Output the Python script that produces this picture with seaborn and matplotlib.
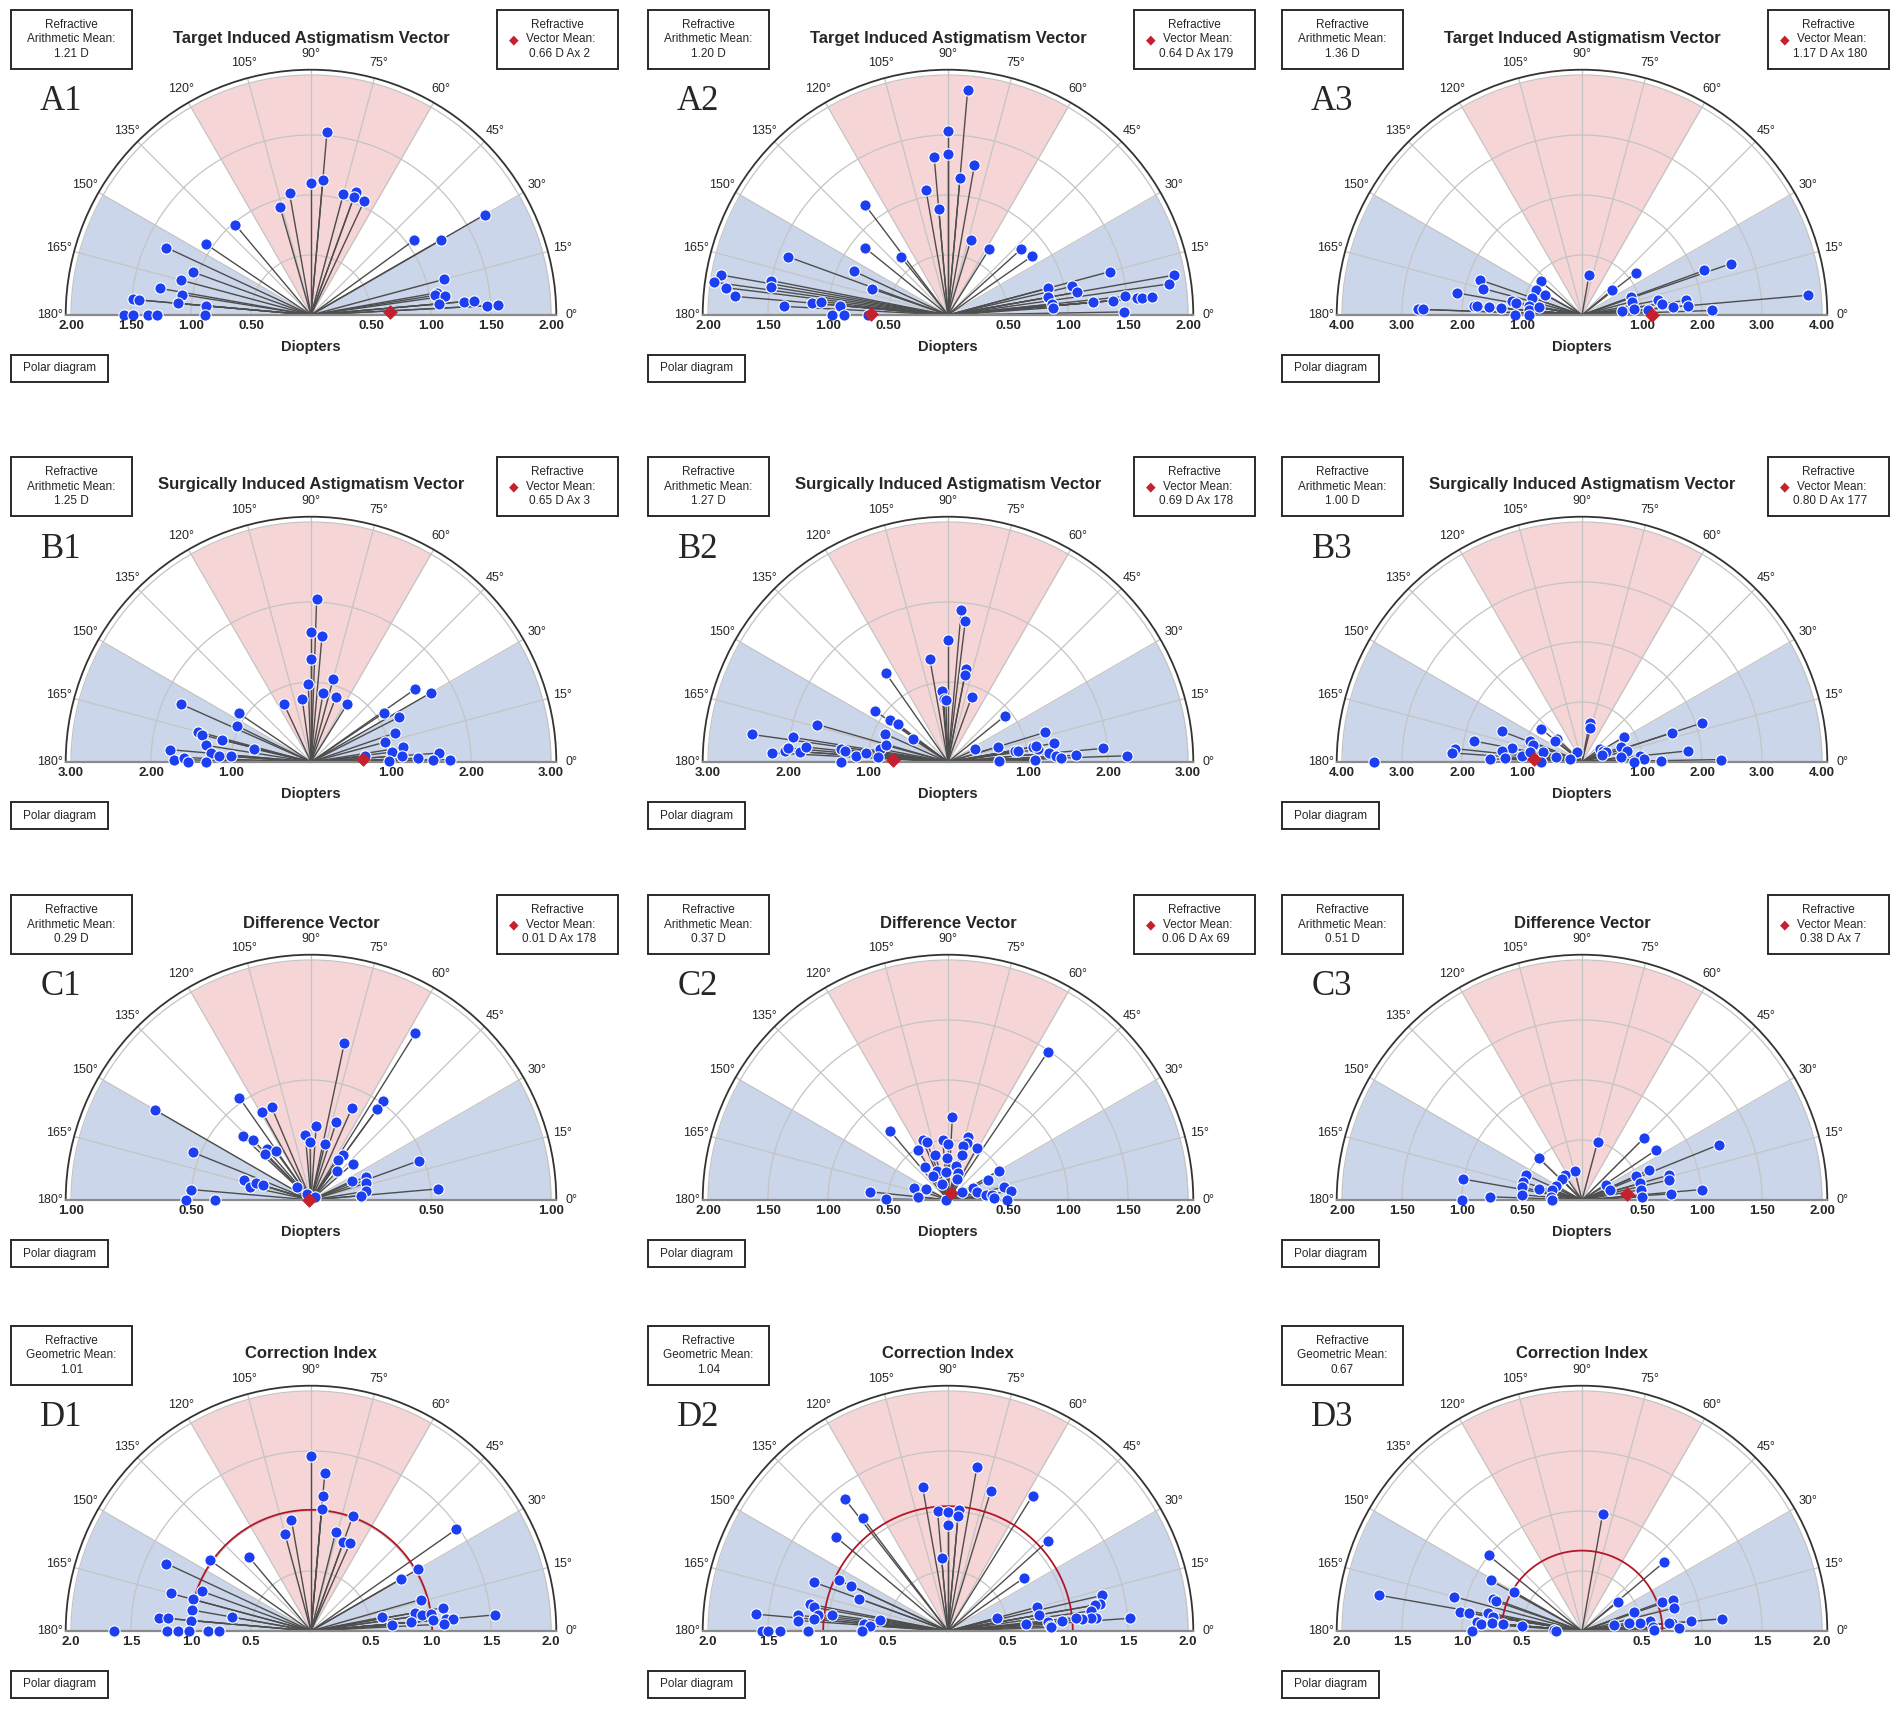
import numpy as np
import matplotlib
matplotlib.use('Agg')
import matplotlib.pyplot as plt
import seaborn as sns
from matplotlib.patches import Rectangle

# ---- data (axis in degrees, magnitude in D) ----
A1_AXIS = [85, 90, 85, 100, 106, 75, 70, 70, 65, 130, 146, 155, 160, 165, 170, 171, 175, 175, 175, 175,
           180, 180, 180, 180, 180, 30, 36, 30, 15, 10, 9, 8, 5, 5, 5, 3, 3]
A1_DIOP = [1.53, 1.10, 1.13, 1.03, 0.94, 1.04, 1.09, 1.05, 1.05, 0.98, 1.06, 1.33, 1.05, 1.12, 1.28, 1.09,
           1.49, 1.44, 1.11, 0.88, 1.56, 1.48, 1.36, 1.28, 0.88, 1.67, 1.06, 1.25, 1.15, 1.07, 1.05, 1.13,
           1.07, 1.28, 1.36, 1.47, 1.56]

A2_AXIS = [85, 90, 90, 95, 80, 85, 100, 95, 73, 58, 42, 35, 127, 141, 129, 160, 155, 161, 170, 172,
           173, 175, 169, 171, 177, 175, 174, 175, 180, 180, 180, 15, 10, 8, 15, 13, 10, 10, 6, 4,
           5, 5, 6, 5, 5, 5, 1]
A2_DIOP = [1.88, 1.53, 1.34, 1.32, 1.27, 1.15, 1.06, 0.89, 0.65, 0.65, 0.82, 0.85, 1.15, 0.89, 0.62,
           1.42, 0.86, 0.67, 1.92, 1.97, 1.86, 1.78, 1.50, 1.49, 1.37, 1.14, 1.06, 0.90, 0.97, 0.87,
           0.67, 1.40, 1.91, 1.86, 0.86, 1.06, 1.09, 0.85, 0.87, 0.88, 1.21, 1.38, 1.48, 1.58, 1.62,
           1.71, 1.47]

A3_AXIS = [80, 38, 40, 19, 20, 5, 20, 15, 7, 5, 4, 11, 8, 5, 8, 5, 2, 141, 151, 151, 161, 161, 165,
           170, 169, 170, 175, 175, 175, 175, 170, 175, 170, 178, 178, 180, 180]
A3_DIOP = [0.67, 1.14, 0.66, 2.62, 2.17, 3.78, 0.87, 0.86, 0.87, 0.67, 1.10, 1.29, 1.35, 1.53, 1.75,
           1.77, 2.17, 0.89, 0.87, 0.70, 0.89, 1.80, 1.70, 2.11, 1.19, 1.12, 1.81, 1.76, 1.55, 1.36,
           0.90, 0.88, 0.72, 2.73, 2.65, 1.11, 0.88]

B1_AXIS = [88, 90, 85, 90, 92, 75, 80, 98, 115, 69, 58, 35, 30, 34, 27, 19, 15, 9, 7, 4, 6, 2, 4, 1,
           1, 1, 156, 146, 154, 165, 166, 166, 167, 171, 175, 176, 176, 175, 179, 178, 180, 180]
B1_DIOP = [2.04, 1.63, 1.58, 1.29, 0.97, 1.08, 0.88, 0.79, 0.80, 0.87, 0.85, 1.59, 1.73, 1.10, 1.24,
           1.11, 0.96, 1.17, 1.02, 1.14, 0.68, 1.34, 1.61, 1.52, 1.74, 0.98, 1.78, 1.09, 1.03, 1.46,
           1.40, 1.15, 0.73, 1.33, 1.26, 1.15, 1.00, 1.77, 1.71, 1.59, 1.54, 1.31]

B2_AXIS = [85, 83, 90, 100, 79, 79, 95, 94, 92, 70, 125, 145, 144, 143, 156, 147, 164, 172, 171, 177,
           176, 175, 176, 174, 173, 174, 176, 174, 169, 165, 176, 180, 39, 17, 25, 17, 9, 9, 10, 8,
           10, 10, 5, 3, 2, 3, 5, 2, 1, 1]
B2_DIOP = [1.91, 1.77, 1.53, 1.31, 1.18, 1.11, 0.89, 0.79, 0.78, 0.86, 1.36, 1.11, 0.89, 0.78, 0.86,
           0.52, 1.70, 2.48, 1.96, 2.20, 2.04, 2.01, 1.85, 1.78, 1.35, 1.30, 1.15, 1.03, 0.87, 0.80,
           0.88, 1.34, 0.92, 1.27, 0.37, 0.65, 0.85, 0.89, 1.08, 1.14, 1.12, 1.34, 1.27, 1.35, 1.41,
           1.60, 1.94, 2.24, 0.64, 1.09]

B3_AXIS = [79, 76, 18, 18, 31, 21, 14, 37, 27, 22, 19, 7, 6, 6, 3, 1, 1, 0, 141, 137, 142, 159, 169,
           158, 161, 169, 174, 176, 172, 177, 178, 174, 169, 166, 168, 118, 164, 180, 180]
B3_DIOP = [0.66, 0.58, 2.11, 1.58, 0.81, 0.70, 0.78, 0.37, 0.40, 0.44, 0.35, 0.66, 1.77, 0.98, 1.03,
           1.32, 2.31, 0.86, 0.87, 0.56, 0.58, 1.42, 1.84, 0.93, 0.87, 1.19, 2.12, 2.18, 1.34, 1.28,
           1.53, 1.01, 0.88, 0.67, 0.44, 0.19, 0.20, 0.68, 3.46]

C1_AXIS = [78, 58, 66, 54, 54, 72, 86, 95, 91, 76, 54, 56, 41, 48, 20, 23, 17, 25, 5, 9, 5, 125, 119,
           113, 137, 134, 131, 126, 135, 150, 158, 163, 168, 163, 163, 175, 180, 180, 139, 120, 40]
C1_DIOP = [0.67, 0.82, 0.42, 0.51, 0.47, 0.34, 0.31, 0.27, 0.24, 0.24, 0.23, 0.20, 0.23, 0.16, 0.48,
           0.25, 0.24, 0.19, 0.53, 0.23, 0.21, 0.52, 0.42, 0.42, 0.39, 0.35, 0.28, 0.25, 0.27, 0.75,
           0.53, 0.29, 0.26, 0.24, 0.21, 0.50, 0.52, 0.40, 0.08, 0.03, 0.02]

C2_AXIS = [56, 87, 130, 113, 110, 95, 90, 72, 72, 75, 61, 121, 106, 92, 72, 125, 111, 122, 94, 77,
           70, 67, 111, 30, 27, 13, 8, 26, 16, 7, 6, 3, 30, 0, 174, 179, 161, 153, 174, 180]
C2_DIOP = [1.49, 0.69, 0.75, 0.54, 0.51, 0.50, 0.47, 0.55, 0.50, 0.47, 0.50, 0.49, 0.39, 0.35, 0.39,
           0.34, 0.26, 0.24, 0.23, 0.29, 0.24, 0.19, 0.14, 0.49, 0.37, 0.48, 0.53, 0.23, 0.25, 0.32,
           0.37, 0.38, 0.13, 0.49, 0.65, 0.52, 0.30, 0.21, 0.25, 0.02]

C3_AXIS = [75, 45, 34, 22, 24, 24, 16, 13, 32, 20, 16, 10, 3, 4, 5, 104, 125, 134, 136, 152, 161,
           174, 180, 156, 163, 168, 175, 166, 170, 178, 180]
C3_DIOP = [0.50, 0.73, 0.74, 1.23, 0.61, 0.49, 0.75, 0.74, 0.24, 0.25, 0.50, 0.50, 0.50, 0.74, 1.00,
           0.25, 0.25, 0.24, 0.50, 0.25, 0.26, 0.26, 0.25, 0.51, 0.51, 0.51, 0.50, 0.37, 1.01, 0.77,
           1.00]

D1_AXIS = [90, 85, 85, 85, 70, 100, 105, 76, 70, 66, 35, 30, 30, 16, 10, 10, 8, 8, 5, 5, 5, 3, 5, 11,
           5, 4, 130, 145, 155, 165, 160, 165, 170, 170, 175, 175, 175, 180, 180, 180, 180, 180, 180]
D1_INDEX = [1.46, 1.32, 1.13, 1.02, 1.02, 0.94, 0.84, 0.85, 0.79, 0.80, 1.48, 1.03, 0.87, 0.95, 1.12,
            0.88, 0.93, 1.01, 1.02, 1.13, 1.19, 1.11, 1.54, 0.60, 0.84, 0.68, 0.81, 1.03, 1.33, 1.21,
            0.97, 1.02, 1.01, 0.67, 1.27, 1.20, 1.00, 1.64, 1.20, 1.11, 1.02, 0.86, 0.77]

D2_AXIS = [80, 100, 73, 58, 128, 127, 95, 90, 85, 85, 90, 95, 140, 42, 35, 160, 155, 155, 160, 169,
           170, 173, 175, 172, 174, 176, 175, 171, 175, 176, 180, 180, 180, 180, 180, 13, 10, 10, 8,
           5, 5, 5, 6, 4, 15, 10, 5, 5, 3, 5, 15, 2]
D2_INDEX = [1.39, 1.22, 1.22, 1.33, 1.40, 1.18, 1.00, 0.99, 1.01, 0.96, 0.88, 0.61, 1.22, 1.12, 0.77,
            1.19, 1.00, 0.89, 0.79, 1.17, 1.13, 1.09, 1.12, 0.98, 1.26, 1.25, 1.61, 0.57, 0.70, 0.65,
            1.55, 1.50, 1.40, 1.17, 0.72, 1.32, 1.29, 1.24, 1.20, 1.24, 1.20, 1.12, 1.07, 1.52, 0.77,
            0.77, 0.95, 0.84, 0.85, 0.65, 0.42, 0.86]

D3_AXIS = [80, 141, 40, 151, 150, 39, 170, 165, 160, 161, 171, 171, 169, 171, 175, 176, 175, 175, 175,
           180, 177, 180, 20, 19, 14, 20, 5, 5, 5, 5, 8, 8, 10, 10, 3, 2, 1]
D3_INDEX = [0.99, 1.00, 0.89, 0.87, 0.65, 0.39, 1.72, 1.10, 0.79, 0.76, 1.03, 0.95, 0.80, 0.75, 0.88,
            0.84, 0.75, 0.66, 0.50, 0.92, 0.23, 0.22, 0.71, 0.80, 0.79, 0.46, 1.17, 0.91, 0.75, 0.73,
            0.57, 0.49, 0.40, 0.27, 0.59, 0.81, 0.60]

# summary statistics shown in the boxes
ARITH_MEAN = {'A1': 1.21, 'A2': 1.20, 'A3': 1.36, 'B1': 1.25, 'B2': 1.27, 'B3': 1.00,
              'C1': 0.29, 'C2': 0.37, 'C3': 0.51}
VEC_MEAN = {'A1': 0.66, 'A2': 0.64, 'A3': 1.17, 'B1': 0.65, 'B2': 0.69, 'B3': 0.80,
            'C1': 0.01, 'C2': 0.06, 'C3': 0.38}
VEC_AXIS = {'A1': 2, 'A2': 179, 'A3': 180, 'B1': 3, 'B2': 178, 'B3': 177,
            'C1': 178, 'C2': 69, 'C3': 7}
GEO_MEAN = {'D1': 1.01, 'D2': 1.04, 'D3': 0.67}

ROW_TITLES = ['Target Induced Astigmatism Vector', 'Surgically Induced Astigmatism Vector',
              'Difference Vector', 'Correction Index']
RMAX = {'A1': 2, 'A2': 2, 'A3': 4, 'B1': 3, 'B2': 3, 'B3': 4,
        'C1': 1, 'C2': 2, 'C3': 2, 'D1': 2, 'D2': 2, 'D3': 2}

DATA = {'A1': (A1_AXIS, A1_DIOP), 'A2': (A2_AXIS, A2_DIOP), 'A3': (A3_AXIS, A3_DIOP),
        'B1': (B1_AXIS, B1_DIOP), 'B2': (B2_AXIS, B2_DIOP), 'B3': (B3_AXIS, B3_DIOP),
        'C1': (C1_AXIS, C1_DIOP), 'C2': (C2_AXIS, C2_DIOP), 'C3': (C3_AXIS, C3_DIOP),
        'D1': (D1_AXIS, D1_INDEX), 'D2': (D2_AXIS, D2_INDEX), 'D3': (D3_AXIS, D3_INDEX)}

# ---- style ----
sns.set_theme(style='white')
plt.rcParams['font.family'] = ['Liberation Sans Narrow', 'Liberation Sans', 'DejaVu Sans']

BLUE_ZONE = '#cbd6ea'
PINK_ZONE = '#f6d5d7'
DOT = '#1c3ff2'
RED = '#c4202e'

W, H = 1901, 1711
COL_X = [311, 948, 1582]
ROW_Y = [315, 762, 1200, 1631]
R = 240  # radius of the outer ring in pixels
GAP = 1.022  # white gap between outer ring and black rim


def fx(x):
    return x / W


def fy(y):
    return 1 - y / H


fig = plt.figure(figsize=(W / 100, H / 100), dpi=100)


def box(x0, y0, w, h):
    fig.add_artist(Rectangle((fx(x0), fy(y0 + h)), w / W, h / H, transform=fig.transFigure,
                             fill=False, ec='#2a2a2a', lw=1.4))


def draw_panel(name, cx, cy, title):
    axis_deg, vals = DATA[name]
    rmax = RMAX[name]
    step = 0.5 if rmax <= 2 else 1.0
    fmt = '{:.1f}' if name[0] == 'D' else '{:.2f}'
    ro = R * GAP

    # polar axes are kept square, the half disc sits in the middle of the box
    ax = fig.add_axes([fx(cx - ro), fy(cy + ro / 2), 2 * ro / W, 2 * ro / H], projection='polar')
    ax.set_thetamin(0)
    ax.set_thetamax(180)
    ax.set_facecolor('white')

    # shaded zones
    for lo, hi, c in [(0, 30, BLUE_ZONE), (150, 180, BLUE_ZONE), (60, 120, PINK_ZONE)]:
        t = np.radians(np.linspace(lo, hi, 80))
        ax.fill_between(t, 0, rmax, color=c, lw=0, zorder=0)

    rings = np.arange(step, rmax + 1e-9, step)
    ax.set_xticks(np.radians(np.arange(0, 181, 15)))
    ax.set_xticklabels([f'{d}\u00b0' for d in range(0, 181, 15)])
    ax.set_yticks(rings)
    ax.set_yticklabels([])
    ax.grid(True, color='#c4c4c4', lw=0.9)
    ax.tick_params(axis='x', pad=4, labelsize=9, length=0)
    ax.set_ylim(0, rmax * GAP)
    ax.spines['polar'].set_color('#333333')
    ax.spines['polar'].set_linewidth(1.3)
    for s in ('start', 'end'):
        ax.spines[s].set_color('#8a8a8a')
        ax.spines[s].set_linewidth(1.6)

    theta = np.radians(np.array(axis_deg, dtype=float))
    r = np.array(vals)
    ax.vlines(theta, 0, r, color='#4d4d4d', lw=1.0, zorder=2)

    if name in GEO_MEAN:
        t = np.linspace(0, np.pi, 200)
        ax.plot(t, np.full_like(t, GEO_MEAN[name]), color='#b0182a', lw=1.3, zorder=2.5)

    sns.scatterplot(x=theta, y=r, ax=ax, s=66, color=DOT, edgecolor='white', linewidth=0.8,
                    zorder=3, legend=False, clip_on=False)

    if name in VEC_MEAN:
        sns.scatterplot(x=[np.radians(VEC_AXIS[name] % 180)], y=[VEC_MEAN[name]], ax=ax,
                        marker='D', s=48, color=RED, edgecolor=RED, zorder=4, legend=False,
                        clip_on=False)
    ax.set_xlabel('')
    ax.set_ylabel('')

    # radial scale labels on both sides of the centre
    for v in rings:
        for th in (0, np.pi):
            ax.annotate(fmt.format(v), xy=(th, v), xytext=(0, -8), textcoords='offset points',
                        ha='center', va='center', fontsize=9.5, fontweight='bold',
                        annotation_clip=False)

    # titles and labels
    fig.text(fx(cx), fy(cy - 277), title, ha='center', va='center', fontsize=12,
             fontweight='bold')
    fig.text(fx(cx - 250), fy(cy - 213), name, ha='center', va='center', fontsize=25,
             family=['Liberation Serif', 'DejaVu Serif'])
    if name[0] != 'D':
        fig.text(fx(cx), fy(cy + 32), 'Diopters', ha='center', va='center', fontsize=10.5,
                 fontweight='bold')

    # left statistics box
    bx, by = cx - 300, cy - 305
    box(bx, by, 121, 59)
    if name in GEO_MEAN:
        lines = ['Refractive', 'Geometric Mean:', f'{GEO_MEAN[name]:.2f}']
    else:
        lines = ['Refractive', 'Arithmetic Mean:', f'{ARITH_MEAN[name]:.2f} D']
    for i, s in enumerate(lines):
        fig.text(fx(bx + 60.5), fy(by + 15 + 14.5 * i), s, ha='center', va='center', fontsize=8.5)

    # right statistics box
    if name in VEC_MEAN:
        bx2 = cx + 186
        box(bx2, by, 121, 59)
        fig.text(fx(bx2 + 60.5), fy(by + 15), 'Refractive', ha='center', va='center', fontsize=8.5)
        fig.text(fx(bx2 + 64), fy(by + 29.5), 'Vector Mean:', ha='center', va='center',
                 fontsize=8.5)
        fig.text(fx(bx2 + 17), fy(by + 30), '\u25c6', ha='center', va='center', fontsize=9,
                 color=RED, family='DejaVu Sans')
        fig.text(fx(bx2 + 62), fy(by + 44), f'{VEC_MEAN[name]:.2f} D Ax {VEC_AXIS[name]}',
                 ha='center', va='center', fontsize=8.5)

    # bottom label box
    box(cx - 300, cy + 40, 97, 27)
    fig.text(fx(cx - 251.5), fy(cy + 53.5), 'Polar diagram', ha='center', va='center',
             fontsize=8.5)


for i, row in enumerate('ABCD'):
    for j in range(3):
        draw_panel(f'{row}{j + 1}', COL_X[j], ROW_Y[i], ROW_TITLES[i])

fig.savefig('out.png', dpi=100, facecolor='white')
